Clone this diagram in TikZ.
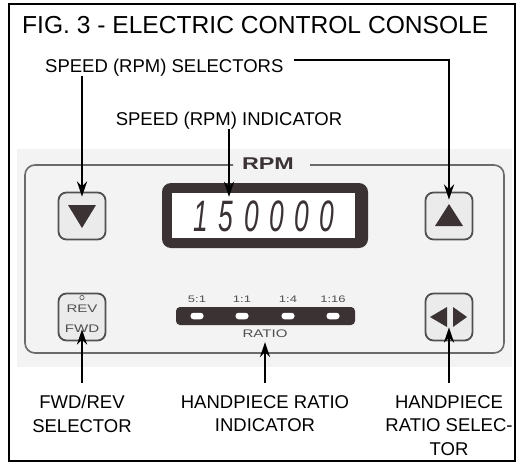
\documentclass[tikz,border=0pt]{standalone}
\usepackage{fontspec}
\setmainfont{Liberation Sans}
\newfontfamily\lcdfont[LetterSpace=40]{Liberation Sans}
\usetikzlibrary{arrows.meta}
\definecolor{panelbg}{HTML}{F3F3F3}
\definecolor{lcddark}{HTML}{3B3234}
\definecolor{btnfill}{HTML}{EBEBEB}
\definecolor{btnedge}{HTML}{505050}
\definecolor{consedge}{HTML}{6A6A6A}
\newcommand{\wide}[1]{\scalebox{1.37}[1]{#1}}

\begin{document}
\begin{tikzpicture}[x=1pt, y=-1pt, node distance=101pt,
    lbl/.style={font=\fontsize{18.5}{23.5}\selectfont, align=center, inner sep=0pt},
    btn/.style={rectangle, rounded corners=8pt, draw=btnedge, line width=1.8pt,
                fill=btnfill, minimum size=47pt},
    arr/.style={-{Stealth[length=15pt, width=10pt]}, line width=2.4pt},
    small/.style={font=\fontsize{11}{11}\selectfont, text=btnedge, inner sep=0pt},
    led/.style={rectangle, rounded corners=3pt, fill=white, minimum width=13pt,
                minimum height=6.5pt, inner sep=0pt}]
  \useasboundingbox (0,0) rectangle (524,463);
  \fill[panelbg] (17,149) rectangle (512,367);
  \draw[line width=2pt] (9,4) rectangle (515,461);
  \draw[consedge, line width=1.6pt, rounded corners=10pt]
    (233,165) -- (25,165) -- (25,353) -- (504,353) -- (504,165) -- (310,165);
  \node[font=\bfseries\fontsize{17}{17}\selectfont, text=lcddark] (rpm) at (268,164) {\wide{RPM}};

  % buttons
  \node[btn] (dn) at (82,216) {};
  \node[btn, below of=dn] (rev) {};
  \node[btn] (up) at (449,216) {};
  \node[btn, below of=up] (rsel) {};
  \fill[lcddark] ([shift={(-14,-11)}]dn.center) -- ([shift={(14,-11)}]dn.center)
    -- ([shift={(0,12)}]dn.center) -- cycle;
  \fill[lcddark] ([shift={(-14,10)}]up.center) -- ([shift={(14,10)}]up.center)
    -- ([shift={(0,-12)}]up.center) -- cycle;
  \fill[lcddark] ([shift={(-19,0)}]rsel.center) -- ([shift={(-2,-10)}]rsel.center)
    -- ([shift={(-2,10)}]rsel.center) -- cycle;
  \fill[lcddark] ([shift={(18,0)}]rsel.center) -- ([shift={(4,-10)}]rsel.center)
    -- ([shift={(4,10)}]rsel.center) -- cycle;
  \draw[btnedge, line width=0.6pt] ([yshift=-5pt]rev.north) circle (2.2);
  \node[small] (revtxt) at ([yshift=8pt]rev.center) {\wide{REV}};
  \node[small] (fwdtxt) at ([yshift=-12pt]rev.center) {\wide{FWD}};

  % display
  \node[rectangle, rounded corners=9pt, fill=lcddark, minimum width=206pt,
        minimum height=65pt] (lcd) at (265,215.5) {};
  \node[rectangle, fill=white, minimum width=183pt, minimum height=45pt,
        inner sep=0pt] (lcdwin) at (263.5,215.5) {};
  \node[font=\lcdfont\itshape\fontsize{44}{44}\selectfont, text=lcddark, inner sep=0pt]
    (rpmval) at (264,216) {\scalebox{0.6}[1]{150000}};

  % ratio bar
  \node[rectangle, rounded corners=4pt, fill=lcddark, minimum width=179pt,
        minimum height=18pt, inner sep=0pt] (rbar) at (265.5,316) {};
  \foreach \x/\r [count=\i] in {197/5:1, 242/1:1, 288/1:4, 333/1:16} {
    \node[led] (led\i) at (\x,316) {};
    \node[small, font=\fontsize{9.5}{9.5}\selectfont] (rlbl\i) at (\x,299) {\wide{\r}};
  }
  \node[small] (ratiolbl) at (265,334) {\wide{RATIO}};

  % labels
  \node[font=\fontsize{24.6}{24.6}\selectfont, anchor=base west, inner sep=0pt]
    (title) at (22,33) {FIG. 3 - ELECTRIC CONTROL CONSOLE};
  \node[lbl, anchor=base west] (sel) at (45,72) {SPEED (RPM) SELECTORS};
  \node[lbl, anchor=base] (ind) at (229,125) {SPEED (RPM) INDICATOR};
  \node[lbl, anchor=north] (fwd) at (82,395) {FWD/REV\\SELECTOR};
  \node[lbl, anchor=north] (hri) at (265,395) {HANDPIECE RATIO\\INDICATOR};
  \node[lbl, anchor=north] (hrs) at (449,395) {HANDPIECE\\RATIO SELEC-\\TOR};

  % arrows
  \draw[arr] (sel.south -| dn.north) -- ([yshift=-5pt]dn.north);
  \draw[arr] ([shift={(10pt,12pt)}]sel.base east) -| ([yshift=-8pt]up.north);
  \draw[arr] (ind.south) -- ([yshift=-14pt]ind.south |- lcd.north);
  \draw[arr] ([yshift=12pt]fwd.north) -- ([yshift=12pt]fwd.north |- rev.south);
  \draw[arr] ([yshift=12pt]hri.north) -- ([yshift=-4pt]hri.north |- ratiolbl.south);
  \draw[arr] ([yshift=12pt]hrs.north) -- ([yshift=14pt]hrs.north |- rsel.south);
\end{tikzpicture}
\end{document}
